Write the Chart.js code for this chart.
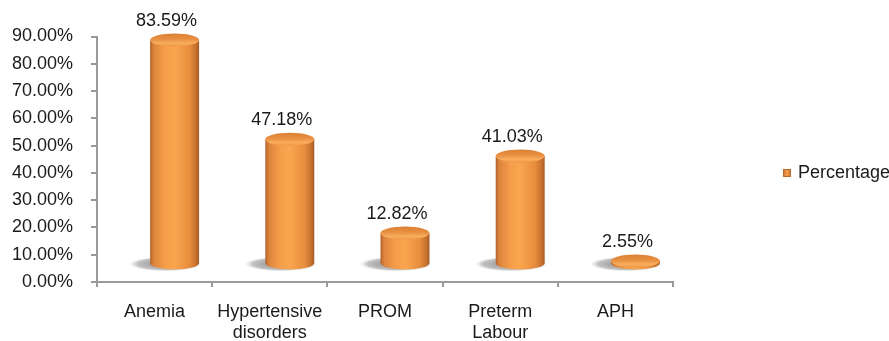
<!DOCTYPE html>
<html>
<head>
<meta charset="utf-8">
<script src="https://cdn.jsdelivr.net/npm/chart.js@4.4.0/dist/chart.umd.min.js"></script>
<style>
  html, body { margin: 0; padding: 0; background: #fff; }
  canvas { display: block; }
</style>
</head>
<body>
<canvas id="barChart" width="889" height="341"></canvas>
<script>
// data
const categories = [["Anemia"], ["Hypertensive", "disorders"], ["PROM"], ["Preterm", "Labour"], ["APH"]];
const percentages = [83.59, 47.18, 12.82, 41.03, 2.55];
const seriesName = "Percentage";
const yMax = 90;
const yStep = 10;

const FONT = "'Liberation Sans', Arial, sans-serif";
// 3d look: bars sit behind the axis plane
const DEPTH_X = 20;
const DEPTH_TOP = -14;
const DEPTH_BASE = -18;

// cylinder drawn at the spot of each bar
function drawCylinder(ctx, cx, top, base, w) {
  const rx = w / 2, ry = 6.5;

  // shadow on the floor, falls to the left
  ctx.save();
  const sx = cx - 9, sy = base + 1;
  ctx.translate(sx, sy);
  ctx.scale(1, 0.2);
  const sh = ctx.createRadialGradient(0, 0, 4, 0, 0, rx + 12);
  sh.addColorStop(0, "rgba(60,60,60,0.6)");
  sh.addColorStop(0.75, "rgba(100,100,100,0.4)");
  sh.addColorStop(1, "rgba(170,170,170,0)");
  ctx.fillStyle = sh;
  ctx.beginPath();
  ctx.arc(0, 0, rx + 12, 0, Math.PI * 2);
  ctx.fill();
  ctx.restore();

  // body
  const g = ctx.createLinearGradient(cx - rx, 0, cx + rx, 0);
  g.addColorStop(0, "#b0612a");
  g.addColorStop(0.07, "#dc843c");
  g.addColorStop(0.3, "#f59d4a");
  g.addColorStop(0.5, "#f9a650");
  g.addColorStop(0.8, "#e88d3d");
  g.addColorStop(0.94, "#c4702e");
  g.addColorStop(1, "#a45a24");
  ctx.fillStyle = g;
  ctx.beginPath();
  ctx.moveTo(cx - rx, top);
  ctx.lineTo(cx - rx, base);
  ctx.ellipse(cx, base, rx, ry, 0, Math.PI, 0, true);
  ctx.lineTo(cx + rx, top);
  ctx.closePath();
  ctx.fill();

  // lid
  const lg = ctx.createLinearGradient(0, top - ry, 0, top + ry);
  lg.addColorStop(0, "#d98035");
  lg.addColorStop(0.45, "#ea9042");
  lg.addColorStop(0.75, "#f8ae5e");
  lg.addColorStop(1, "#ee9645");
  ctx.fillStyle = lg;
  ctx.beginPath();
  ctx.ellipse(cx, top, rx, ry, 0, 0, Math.PI * 2);
  ctx.fill();
}

const cylinderPlugin = {
  id: "cylinders",
  afterDatasetsDraw(chart) {
    const ctx = chart.ctx;
    const meta = chart.getDatasetMeta(0);
    const values = chart.data.datasets[0].data;
    meta.data.forEach((bar, i) => {
      const cx = bar.x + DEPTH_X;
      const top = Math.min(bar.y + DEPTH_TOP, bar.base + DEPTH_BASE);
      drawCylinder(ctx, cx, top, bar.base + DEPTH_BASE, bar.width);
      // value label
      ctx.save();
      ctx.fillStyle = "#1a1a1a";
      ctx.font = "18px " + FONT;
      ctx.textAlign = "center";
      ctx.textBaseline = "middle";
      ctx.fillText(values[i].toFixed(2) + "%", cx - 8, top - 19);
      ctx.restore();
    });
  },
  afterDraw(chart) {
    // legend on the right
    const ctx = chart.ctx;
    const x = 783, y = 173;
    ctx.save();
    const g = ctx.createLinearGradient(x, 0, x + 8, 0);
    g.addColorStop(0, "#c06a2a");
    g.addColorStop(0.5, "#f8a04c");
    g.addColorStop(1, "#c06a2a");
    ctx.fillStyle = g;
    ctx.fillRect(x, y - 4, 8, 8);
    ctx.strokeStyle = "#b86a30";
    ctx.lineWidth = 1;
    ctx.strokeRect(x + 0.5, y - 3.5, 7, 7);
    ctx.fillStyle = "#1a1a1a";
    ctx.font = "18px " + FONT;
    ctx.textAlign = "left";
    ctx.textBaseline = "middle";
    ctx.fillText(chart.data.datasets[0].label, 798, y);
    ctx.restore();
  }
};

const ctx = document.getElementById("barChart").getContext("2d");

new Chart(ctx, {
  type: "bar",
  data: {
    labels: categories,
    datasets: [{
      label: seriesName,
      data: percentages,
      backgroundColor: "rgba(0,0,0,0)",
      borderWidth: 0,
      barPercentage: 0.425,
      categoryPercentage: 1,
    }],
  },
  options: {
    responsive: false,
    animation: false,
    layout: {
      padding: { top: 36.5, left: 0, right: 216, bottom: 0 },
    },
    plugins: {
      legend: { display: false },
      tooltip: { enabled: false },
    },
    scales: {
      x: {
        offset: true,
        grid: {
          offset: true,
          drawOnChartArea: false,
          drawTicks: true,
          tickLength: 5,
          color: "#9a9a9a",
          lineWidth: 2,
        },
        border: { display: true, color: "#9a9a9a", width: 2 },
        ticks: {
          color: "#1a1a1a",
          font: { family: FONT, size: 18 },
          padding: 14,
          maxRotation: 0,
          autoSkip: false,
        },
        afterFit(scale) { scale.height = 59; },
      },
      y: {
        min: 0,
        max: yMax,
        grid: {
          drawOnChartArea: false,
          drawTicks: true,
          tickLength: 6,
          color: "#9a9a9a",
          lineWidth: 2,
        },
        border: { display: true, color: "#9a9a9a", width: 2 },
        ticks: {
          stepSize: yStep,
          color: "#1a1a1a",
          font: { family: FONT, size: 18 },
          padding: 18,
          callback: (v) => v.toFixed(2) + "%",
        },
        afterFit(scale) { scale.width = 97; },
      },
    },
  },
  plugins: [cylinderPlugin],
});
</script>
</body>
</html>
